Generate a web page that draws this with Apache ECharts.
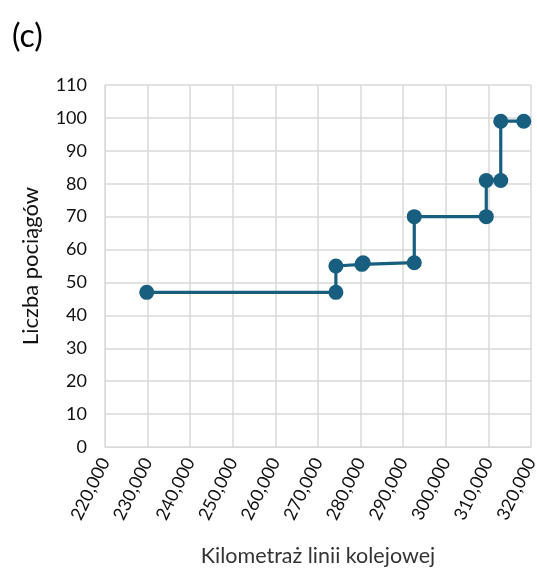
<!DOCTYPE html>
<html>
<head>
<meta charset="utf-8">
<script src="https://cdn.jsdelivr.net/npm/echarts@6/dist/echarts.min.js"></script>
<style>
  html, body { margin: 0; padding: 0; background: #fff; }
  #chart { width: 537px; height: 568px; }
</style>
</head>
<body>
<div id="chart"></div>
<script>
// Railway line chainage (m) and number of trains on each section
const kilometraz = [229800, 274200, 274200, 280300, 280600, 292600, 292600, 309500, 309500, 312900, 312900, 318300];
const liczbaPociagow = [47, 47, 55, 55.5, 56, 56, 70, 70, 81, 81, 99, 99];
const xTicks = { min: 220000, max: 320000, step: 10000 };
const yTicks = { min: 0, max: 110, step: 10 };

const FONT = 'Lato, "Open Sans", sans-serif';
const seriesColor = '#175e7f';

const chart = echarts.init(document.getElementById('chart'));
chart.setOption({
  animation: false,
  title: {
    text: '(c)',
    left: 7,
    top: 16,
    textStyle: { fontFamily: FONT, fontSize: 32, fontWeight: 'normal', color: '#000' }
  },
  grid: { left: 105, right: 6, top: 85, bottom: 121, outerBoundsMode: 'none', containLabel: false },
  xAxis: {
    type: 'value',
    min: xTicks.min,
    max: xTicks.max,
    interval: xTicks.step,
    name: 'Kilometraż linii kolejowej',
    nameLocation: 'middle',
    nameGap: 98,
    nameTextStyle: { fontFamily: FONT, fontSize: 21.5, color: '#333' },
    axisLine: { lineStyle: { color: '#d9d9d9', width: 1 } },
    axisTick: { show: false },
    splitLine: { show: true, lineStyle: { color: '#d9d9d9', width: 1.5 } },
    axisLabel: {
      rotate: 64,
      margin: 12,
      fontFamily: FONT,
      fontSize: 18,
      color: '#111',
      formatter: v => v.toLocaleString('en-US')
    }
  },
  yAxis: {
    type: 'value',
    min: yTicks.min,
    max: yTicks.max,
    interval: yTicks.step,
    name: 'Liczba pociągów',
    nameLocation: 'middle',
    nameGap: 63,
    nameTextStyle: { fontFamily: FONT, fontSize: 22, color: '#111' },
    axisLine: { show: true, lineStyle: { color: '#d9d9d9', width: 1 } },
    axisTick: { show: false },
    splitLine: { show: true, lineStyle: { color: '#d9d9d9', width: 1.5 } },
    axisLabel: { fontFamily: FONT, fontSize: 18, color: '#111', margin: 18 }
  },
  series: [{
    type: 'line',
    data: kilometraz.map((x, i) => [x, liczbaPociagow[i]]),
    symbol: 'circle',
    symbolSize: 15,
    lineStyle: { color: seriesColor, width: 3.2 },
    itemStyle: { color: seriesColor },
    z: 3
  }]
});
</script>
</body>
</html>
